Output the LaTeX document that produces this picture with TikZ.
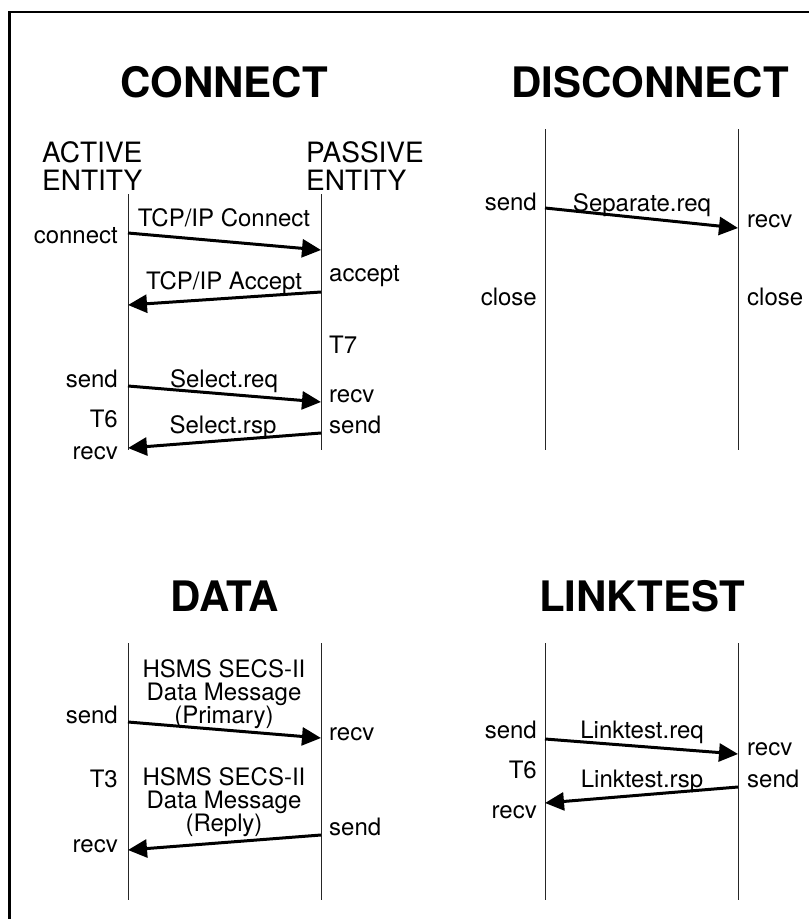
\documentclass[tikz,border=0pt]{standalone}
\usepackage{fontspec}
\setmainfont{TeX Gyre Heros}
\usepackage{tikz}
\usetikzlibrary{arrows.meta}

\begin{document}
\begin{tikzpicture}[x=1pt,y=-1pt,
  heading/.style={inner sep=0pt,anchor=base,font=\fontsize{42}{44}\selectfont\bfseries},
  lbl/.style={inner sep=0pt,font=\fontsize{24}{23}\selectfont},
  party/.style={inner sep=0pt,anchor=base west,align=left,font=\fontsize{28}{28}\selectfont},
  lft/.style={lbl,anchor=base east},
  rgt/.style={lbl,anchor=base west},
  msgtxt/.style={lbl,anchor=base,align=center},
  life/.style={line width=0.9pt,black!85},
  msg/.style={line width=3pt,-{Triangle[length=19pt,width=18pt]}}]
  \useasboundingbox (0,0) rectangle (809,919);
  % frame
  \coordinate (FB) at (9.5,919);
  \coordinate (FC) at (9.5,12);
  \coordinate (FR) at (809,12);
  \draw [line width=2.5pt] (FB) -- (FC) -- (FR);

  % CONNECT
  \node [heading] (CT) at (224,97) {CONNECT};
  \node [party] (CA) at (42,190) {ACTIVE\\ENTITY};
  \node [party] (CP) at (306,190) {PASSIVE\\ENTITY};
  \coordinate (CAt) at (128,194);
  \coordinate (CAb) at (128,450);
  \coordinate (CPt) at (321,194);
  \coordinate (CPb) at (321,450);
  \draw [life] (CAt) -- (CAb);
  \draw [life] (CPt) -- (CPb);
  \coordinate (C1s) at (128,233);
  \coordinate (C1e) at (321,250);
  \coordinate (C2s) at (321,292);
  \coordinate (C2e) at (128,305);
  \coordinate (C3s) at (128,386);
  \coordinate (C3e) at (321,402);
  \coordinate (C4s) at (321,433);
  \coordinate (C4e) at (128,448);
  \draw [msg] (C1s) -- (C1e);
  \draw [msg] (C2s) -- (C2e);
  \draw [msg] (C3s) -- (C3e);
  \draw [msg] (C4s) -- (C4e);
  \node [msgtxt] (C1l) at (224,226) {TCP/IP Connect};
  \node [msgtxt] (C2l) at (224,289) {TCP/IP Accept};
  \node [msgtxt] (C3l) at (224,387) {Select.req};
  \node [msgtxt] (C4l) at (223,433) {Select.rsp};
  \node [lft] (CL1) at (118,243) {connect};
  \node [lft] (CL2) at (118,387) {send};
  \node [lft] (CL3) at (118,427) {T6};
  \node [lft] (CL4) at (118,459) {recv};
  \node [rgt] (CR1) at (329,281) {accept};
  \node [rgt] (CR2) at (329,353) {T7};
  \node [rgt] (CR3) at (329,402) {recv};
  \node [rgt] (CR4) at (329,433) {send};

  % DISCONNECT
  \node [heading] (DT) at (650,97) {DISCONNECT};
  \coordinate (DAt) at (545,129);
  \coordinate (DAb) at (545,450);
  \coordinate (DPt) at (738,129);
  \coordinate (DPb) at (738,450);
  \draw [life] (DAt) -- (DAb);
  \draw [life] (DPt) -- (DPb);
  \coordinate (D1s) at (545,208);
  \coordinate (D1e) at (738,228);
  \draw [msg] (D1s) -- (D1e);
  \node [msgtxt] (D1l) at (642,211) {Separate.req};
  \node [lft] (DL1) at (537,210) {send};
  \node [lft] (DL2) at (537,305) {close};
  \node [rgt] (DR1) at (747,227) {recv};
  \node [rgt] (DR2) at (747,305) {close};

  % DATA
  \node [heading] (AT) at (225,611) {DATA};
  \coordinate (AAt) at (128,643);
  \coordinate (AAb) at (128,900);
  \coordinate (APt) at (321,643);
  \coordinate (APb) at (321,900);
  \draw [life] (AAt) -- (AAb);
  \draw [life] (APt) -- (APb);
  \coordinate (A1s) at (128,722);
  \coordinate (A1e) at (321,738);
  \coordinate (A2s) at (321,835);
  \coordinate (A2e) at (128,850);
  \draw [msg] (A1s) -- (A1e);
  \draw [msg] (A2s) -- (A2e);
  \node [msgtxt] (A1l) at (224,723) {HSMS SECS-II\\Data Message\\(Primary)};
  \node [msgtxt] (A2l) at (224,831) {HSMS SECS-II\\Data Message\\(Reply)};
  \node [lft] (AL1) at (118,723) {send};
  \node [lft] (AL2) at (118,787) {T3};
  \node [lft] (AL3) at (118,852) {recv};
  \node [rgt] (AR1) at (329,740) {recv};
  \node [rgt] (AR2) at (329,835) {send};

  % LINKTEST
  \node [heading] (LT) at (642,611) {LINKTEST};
  \coordinate (LAt) at (545,643);
  \coordinate (LAb) at (545,900);
  \coordinate (LPt) at (738,643);
  \coordinate (LPb) at (738,900);
  \draw [life] (LAt) -- (LAb);
  \draw [life] (LPt) -- (LPb);
  \coordinate (L1s) at (545,739);
  \coordinate (L1e) at (738,754);
  \coordinate (L2s) at (738,787);
  \coordinate (L2e) at (545,803);
  \draw [msg] (L1s) -- (L1e);
  \draw [msg] (L2s) -- (L2e);
  \node [msgtxt] (L1l) at (642,738) {Linktest.req};
  \node [msgtxt] (L2l) at (642,787) {Linktest.rsp};
  \node [lft] (LL1) at (537,738) {send};
  \node [lft] (LL2) at (537,778) {T6};
  \node [lft] (LL3) at (537,818) {recv};
  \node [rgt] (LR1) at (747,755) {recv};
  \node [rgt] (LR2) at (747,787) {send};
\end{tikzpicture}
\end{document}
